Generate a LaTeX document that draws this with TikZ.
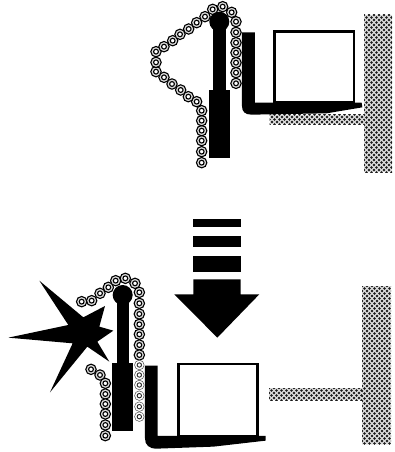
\documentclass[tikz,border=0pt]{standalone}
\begin{document}
\begin{tikzpicture}[x=1pt,y=-1pt,
  solid part/.style={fill=black,draw=none},
  topz/.style={shift={(140,0)},x=0.3333pt,y=-0.3333pt},
  botz/.style={shift={(0,210)},x=0.3333pt,y=-0.3333pt},
  boxedge/.style={draw=black,line width=2.4pt,fill=white}]
\useasboundingbox (0,0) rectangle (394,452);
\fill[white] (0,0) rectangle (394,452);
% stipple helper
\newcommand{\stip}[4]{%
  \begin{scope}
  \clip (#1,#2) rectangle (#3,#4);
  \fill[black!14] (#1,#2) rectangle (#3,#4);
  \pgfmathtruncatemacro{\nx}{(#3-#1)/5+1}
  \pgfmathtruncatemacro{\ny}{(#4-#2)/2.5+1}
  \foreach \j in {0,...,\ny}{
    \pgfmathsetmacro{\oo}{mod(\j,2)*2.5}
    \foreach \i in {0,...,\nx}{
      \fill[black!90] ({#1+\oo+\i*5},{#2+\j*2.5}) circle (1.35pt);
    }
  }
  \end{scope}}
\newcommand{\lnk}[2]{%
  \draw[black,line width=1.1pt,fill=black!15] (#1,#2) circle (5.2pt);
  \draw[black,line width=1.1pt,fill=white] (#1,#2) circle (2.4pt);}
\newcommand{\thinlnk}[2]{%
  \draw[black!70,line width=0.5pt,fill=white] (#1,#2) circle (4.8pt);
  \draw[black!85,line width=0.9pt,fill=white] (#1,#2) circle (2.2pt);}
% ---------- top ----------
\stip{364}{15}{392}{172}
\stip{269.5}{114.5}{364}{124}
\foreach \a/\b in {185/488,185/455,185/422,185/392,185/362,185/332,170/305,145/290,122/270,96/252,72/232,48/215,48/187,48/155,72/140,98/122,120/103,146/87,170/68,195/50,218/28,248/20,275/37,288/65,288/97,288/128,288/158,288/188,288/218,288/250}{
  \pgfmathsetmacro{\px}{140+\a/3}\pgfmathsetmacro{\py}{\b/3}
  \lnk{\px}{\py}
}
\begin{scope}[topz]
  \fill[solid part] (207,270) rectangle (271,473);
  \fill[solid part] (220,60) rectangle (258,270);
  \fill[solid part] (238,65) circle (10pt);
  \draw[boxedge] (404,94) rectangle (642,306);
  \fill[solid part] (306,97) -- (345,97) -- (345,308) -- (665,308) -- (667,322) -- (560,340) -- (335,344)
     .. controls (315,344) and (306,335) .. (306,318) -- cycle;
\end{scope}
% ---------- bottom chains ----------
\foreach \a/\b in {245/275,275/272,300/250,325/232,347/212,376/205,405/220,418/247,418/280,418/312,418/343,418/373,418/405,418/435,273/478,300/495,316/520,316/552,316/582,316/612,316/645,316/677}{
  \pgfmathsetmacro{\px}{\a/3}\pgfmathsetmacro{\py}{210+\b/3}
  \lnk{\px}{\py}
}
\foreach \a/\b in {418/465,418/495,418/525,418/557,418/590,418/620}{
  \pgfmathsetmacro{\px}{\a/3}\pgfmathsetmacro{\py}{210+\b/3}
  \thinlnk{\px}{\py}
}
% ---------- arrow, star, lift ----------
\begin{scope}[botz]
  \fill[solid part] (580,27) rectangle (722,52);
  \fill[solid part] (580,77) rectangle (722,110);
  \fill[solid part] (580,137) rectangle (722,185);
  \fill[solid part] (580,208) -- (722,208) -- (722,253) -- (778,253) -- (652,383) -- (523,253) -- (580,253) -- cycle;
  \fill[solid part] (118,212) -- (250,322) -- (315,288) -- (298,350) -- (340,362) -- (292,395) -- (328,455)
    -- (262,410) -- (150,547) -- (218,400) -- (25,383) -- (205,345) -- cycle;
  \fill[solid part] (337,458) rectangle (400,662);
  \fill[solid part] (350,240) rectangle (388,458);
  \fill[solid part] (368,255) circle (10pt);
  \draw[boxedge] (536,462) rectangle (772,678);
  \fill[solid part] (435,467) -- (473,467) -- (473,678) -- (797,678) -- (797,692) -- (640,710) -- (470,716)
     .. controls (447,716) and (435,705) .. (435,685) -- cycle;
\end{scope}
\stip{362}{286}{391}{444}
\stip{269}{388}{362}{400}
\end{tikzpicture}
\end{document}
